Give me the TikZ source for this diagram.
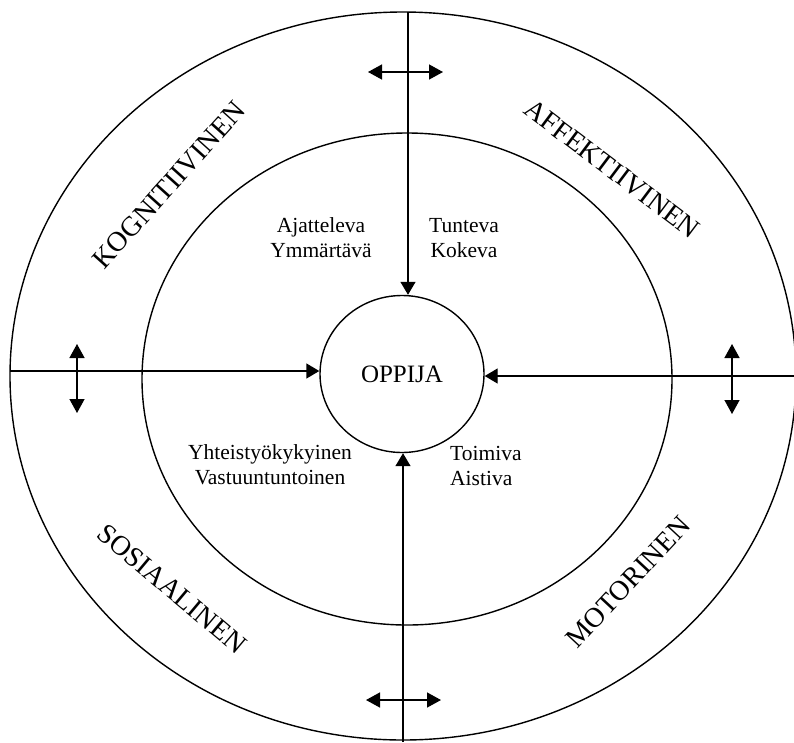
\documentclass[tikz,border=0pt]{standalone}
\usepackage{fontspec}
\setmainfont{Liberation Serif}
\usepackage{tikz}
\usetikzlibrary{shapes.geometric, arrows.meta, positioning, calc}
\usepackage{xcolor}
\definecolor{ringblack}{HTML}{000000}

\begin{document}
\begin{tikzpicture}[
    x=1pt, y=-1pt,
    every node/.style={font=\fontsize{21.5}{25}\selectfont},
    ring/.style={draw=ringblack, line width=1.4pt},
    learner/.style={draw=ringblack, ellipse, minimum width=164pt, minimum height=157pt, line width=1.4pt, font=\fontsize{25}{28}\selectfont},
    sphere/.style={font=\fontsize{28}{30}\selectfont, inner sep=0pt},
    trait/.style={align=center, inner sep=0pt},
    arrow/.style={-{Triangle[length=13pt, width=15pt]}, draw=ringblack, line width=1.4pt},
    swing/.style={{Triangle[length=14pt, width=15pt]}-{Triangle[length=14pt, width=15pt]}, draw=ringblack, line width=1.4pt}
]
    \useasboundingbox (0,0) rectangle (794,742);
    \draw[ring] (403,376) ellipse [x radius=393pt, y radius=364pt];
    \draw[ring] (407,379) ellipse [x radius=265pt, y radius=246pt];
    \node[learner] (oppija) at (402,374) {OPPIJA};

    \node[sphere, rotate=48] (kogn) at (169,185) {KOGNITIIVINEN};
    \node[sphere, rotate=-37] (affe) at (612,169) {AFFEKTIIVINEN};
    \node[sphere, rotate=-40] (sosi) at (172,589) {SOSIAALINEN};
    \node[sphere, rotate=47] (moto) at (628,582) {MOTORINEN};

    \node[trait] (ajat) at (321,238) {Ajatteleva\\Ymmärtävä};
    \node[trait] (tunt) at (464,238) {Tunteva\\Kokeva};
    \node[trait] (yhte) at (270,465) {Yhteistyökykyinen\\Vastuuntuntoinen};
    \node[trait, align=left, anchor=west] (toim) at (450,466) {Toimiva\\Aistiva};

    \coordinate (ktop) at (408,12);
    \coordinate (kbot) at (403,742);
    \coordinate (kleft) at (10,371);
    \coordinate (kright) at (794,376);

    \draw[arrow] (ktop) -- (ktop |- oppija.north);
    \draw[arrow] (kbot) -- (kbot |- oppija.south);
    \draw[arrow] (kleft) -- (kleft -| oppija.west);
    \draw[arrow] (kright) -- (kright -| oppija.east);

    \coordinate (swingtl) at (368,72);
    \coordinate (swingtr) at (443,72);
    \coordinate (swingbl) at (366,700);
    \coordinate (swingbr) at (441,700);
    \coordinate (swinglt) at (77,344);
    \coordinate (swinglb) at (77,413);
    \coordinate (swingrt) at (732,344);
    \coordinate (swingrb) at (732,414);

    \draw[swing] (swingtl) -- (swingtr);
    \draw[swing] (swingbl) -- (swingbr);
    \draw[swing] (swinglt) -- (swinglb);
    \draw[swing] (swingrt) -- (swingrb);
\end{tikzpicture}
\end{document}
